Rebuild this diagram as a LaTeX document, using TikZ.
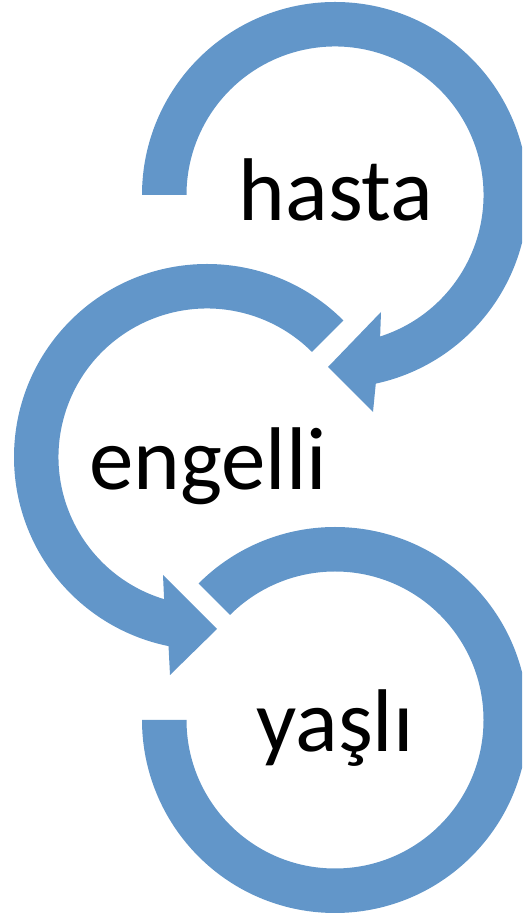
\documentclass[tikz,border=0pt]{standalone}
\usepackage{fontspec}
\setmainfont{Carlito}
\usetikzlibrary{calc}
\definecolor{arrowblue}{RGB}{98,150,201}
\begin{document}
\begin{tikzpicture}[x=1pt,y=1pt,
  band/.style={fill=arrowblue},
  lbl/.style={anchor=base, inner sep=0pt, text=black, font=\fontsize{89}{100}\selectfont}]
\useasboundingbox (0,0) rectangle (522,918);
\clip (0,0) rectangle (522,918);
\coordinate (tc) at (335,723);
\coordinate (mc) at (207,461);
\coordinate (bc) at (335,198);
% top arrow
\fill[band] ($(tc)+(180:193)$) arc[start angle=180, end angle=-77.8, radius=193]
  -- (373,506) -- (328,551) -- (381,606)
  -- ($(tc)+(-72.3:148.5)$) arc[start angle=-72.3, end angle=180, radius=148.5] -- cycle;
% middle arrow
\fill[band] ($(mc)+(45:193)$) arc[start angle=45, end angle=258.5, radius=193]
  -- (170,243) -- (217,289) -- (163,343)
  -- ($(mc)+(253.2:148.5)$) arc[start angle=253.2, end angle=45, radius=148.5] -- cycle;
% bottom arc
\fill[band] ($(bc)+(135:193)$) arc[start angle=135, end angle=-180, radius=193]
  -- ($(bc)+(180:148.5)$) arc[start angle=-180, end angle=135, radius=148.5] -- cycle;
\node[lbl] (hasta) at (336,697) {hasta};
\node[lbl] (engelli) at (208,428) {engelli};
\node[lbl] (yasli) at (335,166) {yaşlı};
\end{tikzpicture}
\end{document}
